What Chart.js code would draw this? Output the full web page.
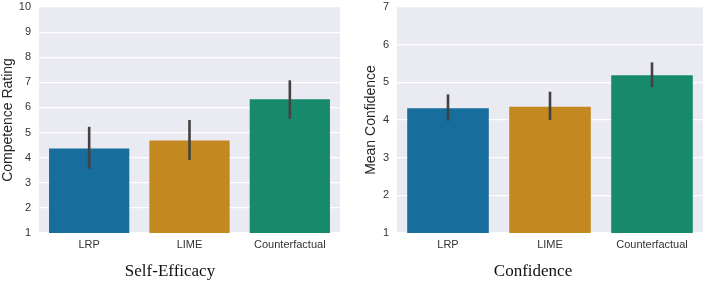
<!DOCTYPE html>
<html>
<head>
<meta charset="utf-8">
<script src="https://cdn.jsdelivr.net/npm/chart.js@4.4.1/dist/chart.umd.min.js"></script>
<style>
  body { margin: 0; background: #fff; }
  #left { position: absolute; left: 0; top: 0; width: 347px; height: 285px; }
  #right { position: absolute; left: 363px; top: 0; width: 345px; height: 285px; }
</style>
</head>
<body>
<div id="left"><canvas id="efficacyChart"></canvas></div>
<div id="right"><canvas id="confidenceChart"></canvas></div>
<script>
// Conditions shown on both panels
const methods = ['LRP', 'LIME', 'Counterfactual'];
const barColors = ['#176D9C', '#C38820', '#168A6A'];

// Self-Efficacy panel (competence rating, mean and CI)
const efficacyMeans = [4.37, 4.68, 6.33];
const efficacyLow = [3.56, 3.91, 5.55];
const efficacyHigh = [5.23, 5.50, 7.08];
const efficacyTicks = [1, 2, 3, 4, 5, 6, 7, 8, 9, 10];

// Confidence panel (mean confidence and CI)
const confidenceMeans = [4.31, 4.35, 5.19];
const confidenceLow = [3.98, 4.00, 4.87];
const confidenceHigh = [4.68, 4.75, 5.53];
const confidenceTicks = [1, 2, 3, 4, 5, 6, 7];

const tickFont = { family: 'Liberation Sans, Arial, sans-serif', size: 11 };

// grey plot background like seaborn darkgrid
const plotBackground = {
    id: 'plotBackground',
    beforeDraw(chart) {
        const a = chart.chartArea;
        const ctx = chart.ctx;
        ctx.save();
        ctx.fillStyle = '#EAEAF2';
        ctx.fillRect(a.left, a.top, a.right - a.left, a.bottom - a.top);
        ctx.restore();
    }
};

// confidence interval lines on top of the bars
const errorBars = {
    id: 'errorBars',
    afterDatasetsDraw(chart, args, opts) {
        const meta = chart.getDatasetMeta(0);
        const y = chart.scales.y;
        const ctx = chart.ctx;
        ctx.save();
        ctx.strokeStyle = '#424242';
        ctx.lineWidth = 2.6;
        meta.data.forEach((bar, i) => {
            ctx.beginPath();
            ctx.moveTo(bar.x, y.getPixelForValue(opts.low[i]));
            ctx.lineTo(bar.x, y.getPixelForValue(opts.high[i]));
            ctx.stroke();
        });
        ctx.restore();
    }
};

function makePanel(canvasId, means, low, high, ticks, yLabel, title, axisWidth, rightPad) {
    const ctx = document.getElementById(canvasId).getContext('2d');
    return new Chart(ctx, {
        type: 'bar',
        data: {
            labels: methods,
            datasets: [{
                data: means,
                backgroundColor: barColors,
                borderWidth: 0,
                categoryPercentage: 1,
                barPercentage: 0.8
            }]
        },
        options: {
            responsive: true,
            maintainAspectRatio: false,
            animation: false,
            layout: { padding: { top: 7, left: 0, right: rightPad, bottom: 0 } },
            scales: {
                x: {
                    grid: { display: false, drawTicks: false },
                    border: { display: false },
                    ticks: { color: '#333', font: tickFont, padding: 5 },
                    afterFit(scale) { scale.height = 24; }
                },
                y: {
                    min: ticks[0],
                    max: ticks[ticks.length - 1],
                    afterBuildTicks(scale) { scale.ticks = ticks.map(v => ({ value: v })); },
                    grid: { color: '#FFFFFF', lineWidth: 1.2, drawTicks: false },
                    border: { display: false },
                    ticks: { color: '#333', font: tickFont, padding: 8 },
                    title: {
                        display: true,
                        text: yLabel,
                        color: '#262626',
                        font: { family: 'Liberation Sans, Arial, sans-serif', size: 14 },
                        padding: { top: 0, bottom: 0 }
                    },
                    afterFit(scale) {
                        scale.width = axisWidth;
                        scale.paddingTop = 0;
                        scale.paddingBottom = 0;
                    }
                }
            },
            plugins: {
                legend: { display: false },
                tooltip: { enabled: false },
                title: {
                    display: true,
                    position: 'bottom',
                    text: title,
                    color: '#111',
                    font: { family: 'Liberation Serif, Times New Roman, serif', size: 17, weight: 'normal', lineHeight: 1.2 },
                    padding: { top: 4.8, bottom: 2.8 }
                },
                errorBars: { low: low, high: high }
            }
        },
        plugins: [plotBackground, errorBars]
    });
}

makePanel('efficacyChart', efficacyMeans, efficacyLow, efficacyHigh, efficacyTicks,
    'Competence Rating', 'Self-Efficacy', 39, 7);
makePanel('confidenceChart', confidenceMeans, confidenceLow, confidenceHigh, confidenceTicks,
    'Mean Confidence', 'Confidence', 34, 5);
</script>
</body>
</html>
